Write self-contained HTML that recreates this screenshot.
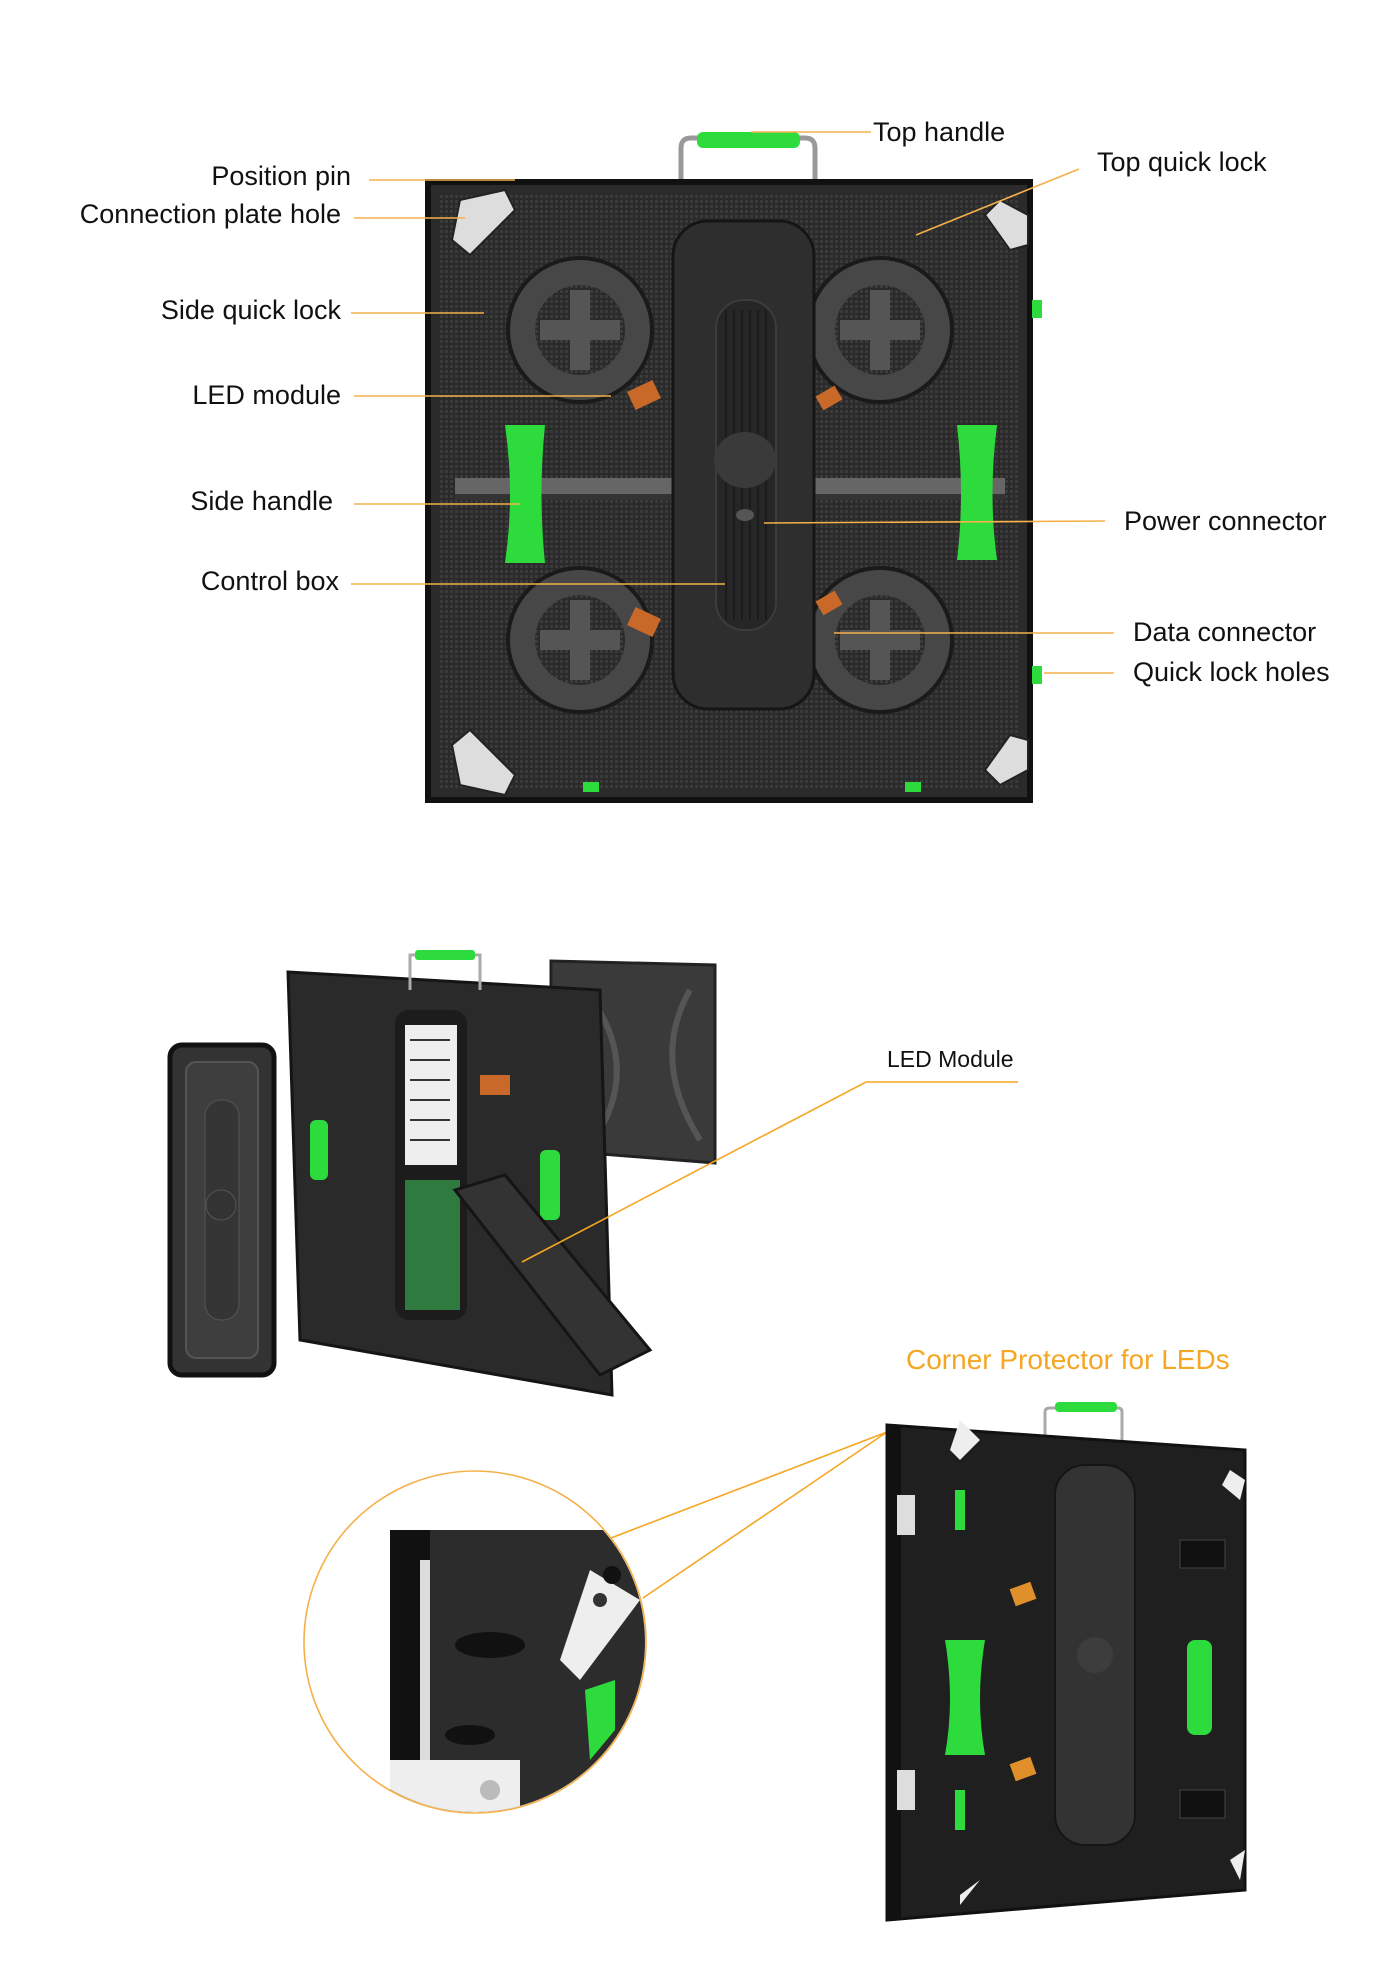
<!DOCTYPE html>
<html><head><meta charset="utf-8"><style>
html,body{margin:0;padding:0;background:#fff;}
body{width:1400px;height:1962px;position:relative;overflow:hidden;font-family:"Liberation Sans",sans-serif;}
.l{position:absolute;font-size:27px;color:#111;white-space:nowrap;line-height:1;}
.r{text-align:right;}
svg{position:absolute;left:0;top:0;}
</style></head><body>
<svg width="1400" height="1962" viewBox="0 0 1400 1962">
<defs>
<pattern id="mesh" width="5" height="5" patternUnits="userSpaceOnUse"><rect width="5" height="5" fill="#2a2a2a"/><rect width="3" height="3" fill="#3b3b3b"/></pattern>
</defs>

<!-- ===== TOP PANEL ===== -->
<g>
<path d="M681 192 L681 148 Q681 138 691 138 L805 138 Q815 138 815 148 L815 192" fill="none" stroke="#999" stroke-width="5"/>
<rect x="697" y="132" width="103" height="16" rx="6" fill="#2ddc3c"/>
<rect x="428" y="182" width="602" height="618" fill="#2b2b2b"/>
<rect x="428" y="182" width="602" height="618" fill="none" stroke="#111" stroke-width="6"/>
<rect x="440" y="195" width="578" height="594" fill="url(#mesh)"/>
<g fill="#474747" stroke="#1a1a1a" stroke-width="4">
<circle cx="580" cy="330" r="72"/><circle cx="880" cy="330" r="72"/>
<circle cx="580" cy="640" r="72"/><circle cx="880" cy="640" r="72"/>
</g>
<g fill="url(#mesh)">
<circle cx="580" cy="330" r="45"/><circle cx="880" cy="330" r="45"/>
<circle cx="580" cy="640" r="45"/><circle cx="880" cy="640" r="45"/>
</g>
<g fill="#555">
<rect x="570" y="290" width="20" height="80"/><rect x="540" y="320" width="80" height="20"/>
<rect x="870" y="290" width="20" height="80"/><rect x="840" y="320" width="80" height="20"/>
<rect x="570" y="600" width="20" height="80"/><rect x="540" y="630" width="80" height="20"/>
<rect x="870" y="600" width="20" height="80"/><rect x="840" y="630" width="80" height="20"/>
</g>
<rect x="455" y="478" width="550" height="16" fill="#666"/>
<rect x="455" y="494" width="550" height="6" fill="#333"/>
<g fill="#ddd" stroke="#222" stroke-width="2">
<path d="M460 200 L505 190 L515 210 L470 255 L452 240 Z"/>
<path d="M1000 200 L1028 215 L1028 245 L1010 250 L985 215 Z"/>
<path d="M460 785 L505 795 L515 775 L470 730 L452 745 Z"/>
<path d="M1000 785 L1028 770 L1028 740 L1010 735 L985 770 Z"/>
</g>
<rect x="673" y="221" width="141" height="488" rx="35" fill="#2e2e2e" stroke="#151515" stroke-width="3"/>
<rect x="716" y="300" width="60" height="330" rx="28" fill="#262626" stroke="#3c3c3c" stroke-width="2"/>
<g stroke="#1b1b1b" stroke-width="2">
<line x1="726" y1="310" x2="726" y2="620"/><line x1="734" y1="310" x2="734" y2="620"/><line x1="742" y1="310" x2="742" y2="620"/><line x1="750" y1="310" x2="750" y2="620"/><line x1="758" y1="310" x2="758" y2="620"/><line x1="766" y1="310" x2="766" y2="620"/>
</g>
<ellipse cx="745" cy="460" rx="31" ry="28" fill="#3a3a3a"/>
<ellipse cx="745" cy="515" rx="9" ry="6" fill="#555"/>
<path d="M505 425 L545 425 Q538 495 545 563 L505 563 Q515 495 505 425 Z" fill="#2ddc3c"/>
<path d="M957 425 L997 425 Q988 495 997 560 L957 560 Q965 495 957 425 Z" fill="#2ddc3c"/>
<g fill="#c8692a"><rect x="630" y="385" width="28" height="20" transform="rotate(-25 644 395)"/><rect x="630" y="612" width="28" height="20" transform="rotate(25 644 622)"/><rect x="818" y="390" width="22" height="16" transform="rotate(-30 829 398)"/><rect x="818" y="595" width="22" height="16" transform="rotate(-30 829 603)"/></g>
<g fill="#2ddc3c"><rect x="1032" y="300" width="10" height="18"/><rect x="1032" y="666" width="10" height="18"/><rect x="583" y="782" width="16" height="10"/><rect x="905" y="782" width="16" height="10"/></g>
</g>
<g stroke="#f5b04a" stroke-width="1.6" fill="none">
<line x1="751" y1="132" x2="871" y2="132"/>
<line x1="1079" y1="169" x2="916" y2="235"/>
<line x1="369" y1="180" x2="515" y2="180"/>
<line x1="354" y1="218" x2="465" y2="218"/>
<line x1="351" y1="313" x2="484" y2="313"/>
<line x1="354" y1="396" x2="611" y2="396"/>
<line x1="354" y1="504" x2="520" y2="504"/>
<line x1="351" y1="584" x2="725" y2="584"/>
<line x1="764" y1="523" x2="1105" y2="521"/>
<line x1="834" y1="633" x2="1114" y2="633"/>
<line x1="1044" y1="673" x2="1114" y2="673"/>
</g>

<!-- ===== EXPLODED VIEW ===== -->
<g>
<rect x="170" y="1045" width="104" height="330" rx="12" fill="#333" stroke="#111" stroke-width="5"/>
<rect x="186" y="1062" width="72" height="296" rx="10" fill="#3e3e3e" stroke="#555" stroke-width="2"/>
<rect x="205" y="1100" width="34" height="220" rx="16" fill="#353535" stroke="#555"/>
<circle cx="221" cy="1205" r="15" fill="#333" stroke="#555"/>
<polygon points="551,961 715,965 715,1163 551,1150" fill="#3a3a3a" stroke="#222" stroke-width="3"/>
<path d="M585 990 Q640 1060 600 1130 M690 990 Q650 1060 700 1140" stroke="#555" stroke-width="6" fill="none"/>
<path d="M288 972 L600 990 L612 1395 L300 1340 Z" fill="#2a2a2a" stroke="#151515" stroke-width="3"/>
<path d="M410 990 L410 955 L480 955 L480 990" stroke="#aaa" stroke-width="3" fill="none"/>
<rect x="415" y="950" width="60" height="10" rx="3" fill="#2ddc3c"/>
<rect x="395" y="1010" width="72" height="310" rx="14" fill="#1c1c1c"/>
<rect x="405" y="1025" width="52" height="140" fill="#eee"/>
<g stroke="#333" stroke-width="2"><line x1="410" y1="1040" x2="450" y2="1040"/><line x1="410" y1="1060" x2="450" y2="1060"/><line x1="410" y1="1080" x2="450" y2="1080"/><line x1="410" y1="1100" x2="450" y2="1100"/><line x1="410" y1="1120" x2="450" y2="1120"/><line x1="410" y1="1140" x2="450" y2="1140"/></g>
<rect x="405" y="1180" width="55" height="130" fill="#2f7a3e"/>
<rect x="310" y="1120" width="18" height="60" rx="6" fill="#2ddc3c"/>
<rect x="540" y="1150" width="20" height="70" rx="6" fill="#2ddc3c"/>
<polygon points="455,1190 505,1175 650,1350 600,1375" fill="#333" stroke="#151515" stroke-width="3"/>
<rect x="480" y="1075" width="30" height="20" fill="#c8692a"/>
</g>
<g stroke="#f5a623" stroke-width="1.6" fill="none">
<polyline points="522,1262 866,1082 1018,1082"/>
</g>

<!-- ===== CORNER PROTECTOR ===== -->
<circle cx="475" cy="1642" r="171" fill="#fff" stroke="#f5b04a" stroke-width="1.6"/>
<clipPath id="cc"><circle cx="475" cy="1642" r="170"/></clipPath>
<g clip-path="url(#cc)">
<rect x="390" y="1530" width="280" height="290" fill="#2c2c2c"/>
<rect x="390" y="1530" width="40" height="290" fill="#111"/>
<rect x="420" y="1560" width="10" height="250" fill="#ddd"/>
<rect x="390" y="1760" width="130" height="55" fill="#eee"/>
<circle cx="490" cy="1790" r="10" fill="#bbb"/>
<polygon points="590,1570 640,1600 580,1680 560,1660" fill="#eee"/>
<circle cx="612" cy="1575" r="9" fill="#111"/><circle cx="600" cy="1600" r="7" fill="#333"/>
<path d="M585 1690 L615 1680 L615 1730 L590 1760 Z" fill="#2ddc3c"/>
<ellipse cx="490" cy="1645" rx="35" ry="13" fill="#111"/>
<ellipse cx="470" cy="1735" rx="25" ry="10" fill="#111"/>
</g>
<g stroke="#f5a623" stroke-width="1.6" fill="none">
<line x1="887" y1="1432" x2="611" y2="1538"/>
<line x1="887" y1="1432" x2="643" y2="1598"/>
</g>
<g>
<path d="M1045 1445 L1045 1412 Q1045 1408 1050 1408 L1118 1408 Q1122 1408 1122 1412 L1122 1445" fill="none" stroke="#aaa" stroke-width="3"/>
<rect x="1055" y="1402" width="62" height="10" rx="4" fill="#2ddc3c"/>
<polygon points="887,1425 1245,1450 1245,1890 887,1920" fill="#1f1f1f" stroke="#111" stroke-width="3"/>
<rect x="887" y="1425" width="14" height="495" fill="#111"/>
<rect x="897" y="1495" width="18" height="40" fill="#ddd"/>
<rect x="897" y="1770" width="18" height="40" fill="#ddd"/>
<rect x="1055" y="1465" width="80" height="380" rx="30" fill="#333" stroke="#151515" stroke-width="2"/>
<circle cx="1095" cy="1655" r="18" fill="#3d3d3d"/>
<path d="M945 1640 L985 1640 Q975 1700 985 1755 L945 1755 Q955 1700 945 1640 Z" fill="#2ddc3c"/>
<rect x="1187" y="1640" width="25" height="95" rx="8" fill="#2ddc3c"/>
<rect x="955" y="1490" width="10" height="40" fill="#2ddc3c"/>
<rect x="955" y="1790" width="10" height="40" fill="#2ddc3c"/>
<rect x="1012" y="1585" width="22" height="18" fill="#e0902a" transform="rotate(-20 1023 1594)"/>
<rect x="1012" y="1760" width="22" height="18" fill="#e0902a" transform="rotate(-20 1023 1769)"/>
<rect x="1180" y="1540" width="45" height="28" fill="#111" stroke="#444"/>
<rect x="1180" y="1790" width="45" height="28" fill="#111" stroke="#444"/>
<g fill="#eee"><polygon points="960,1420 980,1440 960,1460 950,1450"/><polygon points="960,1895 980,1880 960,1905"/><polygon points="1230,1470 1245,1480 1240,1500 1222,1485"/><polygon points="1230,1860 1245,1850 1240,1880"/></g>
</g>
</svg>

<div class="l" style="left:873px;top:119px;">Top handle</div>
<div class="l" style="left:1097px;top:149px;">Top quick lock</div>
<div class="l r" style="right:1049px;top:163px;">Position pin</div>
<div class="l r" style="right:1059px;top:201px;">Connection plate hole</div>
<div class="l r" style="right:1059px;top:297px;">Side quick lock</div>
<div class="l r" style="right:1059px;top:382px;">LED module</div>
<div class="l r" style="right:1067px;top:488px;">Side handle</div>
<div class="l r" style="right:1061px;top:568px;">Control box</div>
<div class="l" style="left:1124px;top:508px;">Power connector</div>
<div class="l" style="left:1133px;top:619px;">Data connector</div>
<div class="l" style="left:1133px;top:659px;">Quick lock holes</div>
<div class="l" style="left:887px;top:1048px;font-size:23px;">LED Module</div>
<div class="l" style="left:906px;top:1346px;font-size:28px;color:#f5a623;">Corner Protector for LEDs</div>
</body></html>
